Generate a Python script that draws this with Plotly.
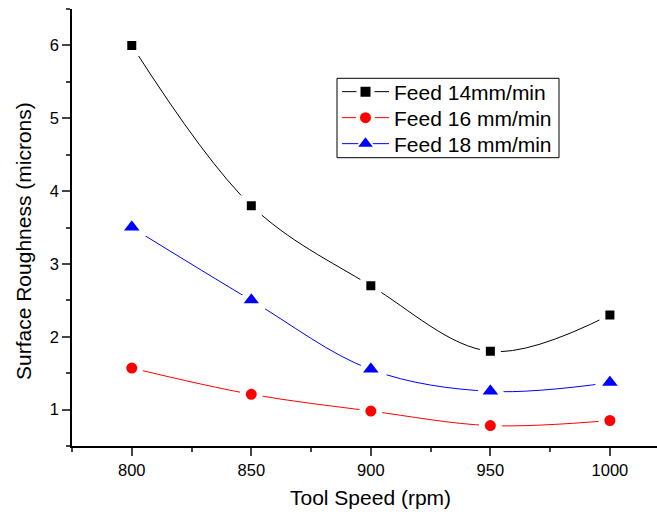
import plotly.graph_objects as go

speed = [800, 850, 900, 950, 1000]
feed14 = [6.0, 3.8, 2.7, 1.8, 2.3]
feed16 = [1.57, 1.21, 0.98, 0.78, 0.85]
feed18 = [3.5, 2.5, 1.55, 1.25, 1.37]

names = ["Feed 14mm/min", "Feed 16 mm/min", "Feed 18 mm/min"]
colors = ["black", "red", "blue"]
symbols = ["square", "circle", "triangle-up"]
sizes = [15, 17, 24]
legend_sizes = [14, 15, 16]
legend_borders = [4, 4, 2]
legend_ids = ["legend", "legend2", "legend3"]

# plot area in pixels
L, T, W, H = 72, 9, 585, 437
def px(x):
    return (x - L) / W
def py(y):
    return (T + H - y) / H

fig = go.Figure()
for y, n, c, s, sz in zip([feed14, feed16, feed18], names, colors, symbols, sizes):
    fig.add_trace(go.Scatter(
        x=speed, y=y, name=n, mode="lines+markers", showlegend=False,
        line=dict(color=c, width=1, shape="spline", smoothing=1),
        marker=dict(symbol=s, size=sz, color=c, line=dict(color="white", width=6)),
    ))
# legend entries
for n, c, s, sz, bw, lg in zip(names, colors, symbols, legend_sizes, legend_borders, legend_ids):
    fig.add_trace(go.Scatter(
        x=[None], y=[None], name=n, mode="lines+markers", legend=lg, showlegend=True,
        line=dict(color=c, width=1),
        marker=dict(symbol=s, size=sz, color=c, line=dict(color="white", width=bw)),
    ))

font = "Liberation Sans, Arial, sans-serif"
legend_rows = [92, 118, 144]
legends = {}
for lg, row in zip(legend_ids, legend_rows):
    legends[lg] = dict(
        x=px(337), y=py(row), xanchor="left", yanchor="middle",
        bgcolor="rgba(0,0,0,0)", borderwidth=0,
        font=dict(size=21, family=font), itemwidth=47,
    )

fig.update_layout(
    width=657, height=516,
    margin=dict(l=L, r=657 - L - W, t=T, b=516 - T - H),
    plot_bgcolor="white", paper_bgcolor="white",
    font=dict(family=font, color="black"),
    showlegend=True,
    **legends,
    shapes=[dict(type="rect", xref="paper", yref="paper",
                 x0=px(337), x1=px(559), y0=py(157.7), y1=py(78.3),
                 line=dict(color="black", width=1), fillcolor="rgba(0,0,0,0)", layer="below")],
    xaxis=dict(
        range=[775, 1019.7], tickvals=speed, ticks="outside", ticklen=8, tickwidth=1.5,
        showline=True, linecolor="black", linewidth=1.5, showgrid=False, zeroline=False,
        tickfont=dict(size=16.5), automargin=False,
        minor=dict(ticks="outside", ticklen=4, tickwidth=1.5, dtick=25, tick0=775, showgrid=False),
    ),
    yaxis=dict(
        range=[0.5, 6.5], tickvals=[1, 2, 3, 4, 5, 6], ticks="outside", ticklen=8, tickwidth=1.5,
        showline=True, linecolor="black", linewidth=1.5, showgrid=False, zeroline=False,
        tickfont=dict(size=16.5), automargin=False,
        minor=dict(ticks="outside", ticklen=4, tickwidth=1.5, dtick=0.5, tick0=0.5, showgrid=False),
    ),
    annotations=[
        dict(text="Tool Speed (rpm)", xref="paper", yref="paper", x=px(370.5), y=py(497.5),
             xanchor="center", yanchor="middle", showarrow=False, font=dict(size=21)),
        dict(text="Surface Roughness (microns)", xref="paper", yref="paper", x=px(23), y=py(241),
             xanchor="center", yanchor="middle", showarrow=False, textangle=-90, font=dict(size=21)),
    ],
)
fig.write_html("out.html", config={"displayModeBar": False},
               post_script="document.body.style.margin='0';document.body.style.overflow='hidden';")
